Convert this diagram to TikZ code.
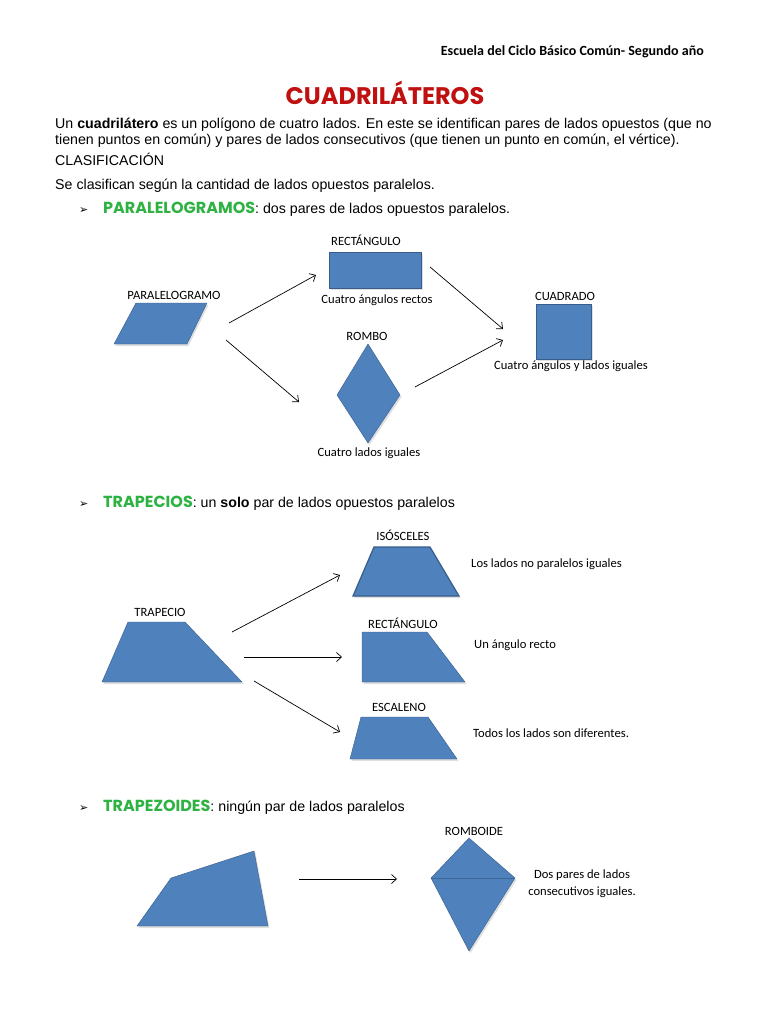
\documentclass[tikz,border=0pt]{standalone}
\usepackage{fontspec}
\setmainfont{Liberation Sans}
\newfontfamily\calib{Carlito}
\newfontfamily\djv{DejaVu Sans}
\newfontfamily\popf{Poppins}
\usetikzlibrary{arrows.meta,shadows}
\definecolor{shpblue}{RGB}{79,129,189}
\definecolor{shpedge}{RGB}{56,93,138}
\definecolor{titlered}{RGB}{192,16,16}
\definecolor{headgreen}{RGB}{46,178,66}
\begin{document}
\begin{tikzpicture}[x=1pt,y=-1pt,
  shp/.style={fill=shpblue, draw=shpedge, line width=0.4pt, line join=miter,
    drop shadow={opacity=0.25, shadow xshift=1.5pt, shadow yshift=-2pt}},
  shpo/.style={shp, line width=1.2pt},
  lbl/.style={inner sep=0, font=\calib\fontsize{12.6}{17}\selectfont},
  body/.style={anchor=base west, inner sep=0, font=\fontsize{14.2}{16}\selectfont},
  bul/.style={anchor=base west, inner sep=0, font=\djv\fontsize{11}{12}\selectfont},
  arr/.style={-{Straight Barb[length=5pt,width=9pt]}, line width=0.7pt}]
\useasboundingbox[fill=white] (0,0) rectangle (768,1024);

% header and title
\node[anchor=base east, inner sep=0, font=\calib\bfseries\fontsize{14}{16}\selectfont] (hdr) at (704,55.5) {Escuela del Ciclo Básico Común- Segundo año};
\node[inner sep=0, text=titlered, font=\popf\bfseries\fontsize{24}{28}\selectfont] (title) at (385,93) {CUADRILÁTEROS};

% body text
\node[body] (l1) at (55,129) {Un \textbf{cuadrilátero} es un polígono de cuatro lados. En este se identifican pares de lados opuestos (que no};
\node[body] (l2) at (55,145) {tienen puntos en común) y pares de lados consecutivos (que tienen un punto en común, el vértice).};
\node[body] (l3) at (55,166) {CLASIFICACIÓN};
\node[body] (l4) at (55,190) {Se clasifican según la cantidad de lados opuestos paralelos.};

% section 1
\node[bul] (b1) at (79,213.5) {➢};
\node[body] (s1) at (103,213.5) {{\popf\bfseries\fontsize{16}{18}\selectfont\color{headgreen}PARALELOGRAMOS}: dos pares de lados opuestos paralelos.};

\node[lbl] (tparal) at (174,295) {PARALELOGRAMO};
\path[shp] (136,303) -- (207,303) -- (187,344) -- (114,344) -- cycle;
\node[lbl] (trect) at (366,240) {RECTÁNGULO};
\path[shp] (329,252) rectangle (421,288);
\node[lbl] (crect) at (377,300) {Cuatro ángulos rectos};
\node[lbl] (tromb) at (367,336) {ROMBO};
\path[shp] (368,344) -- (400,395) -- (368,443) -- (337,395) -- cycle;
\node[lbl] (cromb) at (369,453) {Cuatro lados iguales};
\node[lbl] (tcuad) at (565,296) {CUADRADO};
\path[shp] (536,304) rectangle (591,359);
\node[lbl] (ccuad) at (571,366) {Cuatro ángulos y lados iguales};

\coordinate (p1a) at (229,323); \coordinate (p1b) at (316,275);
\coordinate (p2a) at (226,340); \coordinate (p2b) at (299,402);
\coordinate (p3a) at (430,267); \coordinate (p3b) at (503,329);
\coordinate (p4a) at (415,387); \coordinate (p4b) at (503,340);
\draw[arr] (p1a) -- (p1b);
\draw[arr] (p2a) -- (p2b);
\draw[arr] (p3a) -- (p3b);
\draw[arr] (p4a) -- (p4b);

% section 2
\node[bul] (b2) at (79,507.5) {➢};
\node[body] (s2) at (103,507.5) {{\popf\bfseries\fontsize{16}{18}\selectfont\color{headgreen}TRAPECIOS}: un \textbf{solo} par de lados opuestos paralelos};

\node[lbl] (ttrap) at (160,612) {TRAPECIO};
\path[shp] (128,622) -- (185,622) -- (242,682) -- (102,682) -- cycle;
\node[lbl] (tiso) at (403,535) {ISÓSCELES};
\path[shpo] (374,547) -- (430,547) -- (459,596) -- (353,596) -- cycle;
\node[lbl, anchor=west] (ciso) at (471,564) {Los lados no paralelos iguales};
\node[lbl] (trect2) at (403,623) {RECTÁNGULO};
\path[shp] (362,632) -- (427,632) -- (465,682) -- (362,682) -- cycle;
\node[lbl, anchor=west] (crect2) at (474,645) {Un ángulo recto};
\node[lbl] (tesc) at (399,707) {ESCALENO};
\path[shp] (361,717) -- (428,717) -- (457,759) -- (350,759) -- cycle;
\node[lbl, anchor=west] (cesc) at (473,733) {Todos los lados son diferentes.};

\coordinate (t1a) at (232,632); \coordinate (t1b) at (340,575);
\coordinate (t2a) at (244,657); \coordinate (t2b) at (342,657);
\coordinate (t3a) at (254,681); \coordinate (t3b) at (340,732);
\draw[arr] (t1a) -- (t1b);
\draw[arr] (t2a) -- (t2b);
\draw[arr] (t3a) -- (t3b);

% section 3
\node[bul] (b3) at (79,811.5) {➢};
\node[body] (s3) at (103,811.5) {{\popf\bfseries\fontsize{16}{18}\selectfont\color{headgreen}TRAPEZOIDES}: ningún par de lados paralelos};

\path[shp] (137,926) -- (171,878) -- (254,851) -- (268,926) -- cycle;
\coordinate (z1a) at (299,879); \coordinate (z1b) at (397,879);
\draw[arr] (z1a) -- (z1b);
\node[lbl] (tromboide) at (474,831) {ROMBOIDE};
\path[shp] (469,838) -- (515,878) -- (469,951) -- (431,878) -- cycle;
\draw[shpedge!70!shpblue, line width=0.4pt] (431,878) -- (515,878);
\node[lbl, align=center] (cromboide) at (582,884) {Dos pares de lados\\consecutivos iguales.};
\end{tikzpicture}
\end{document}
